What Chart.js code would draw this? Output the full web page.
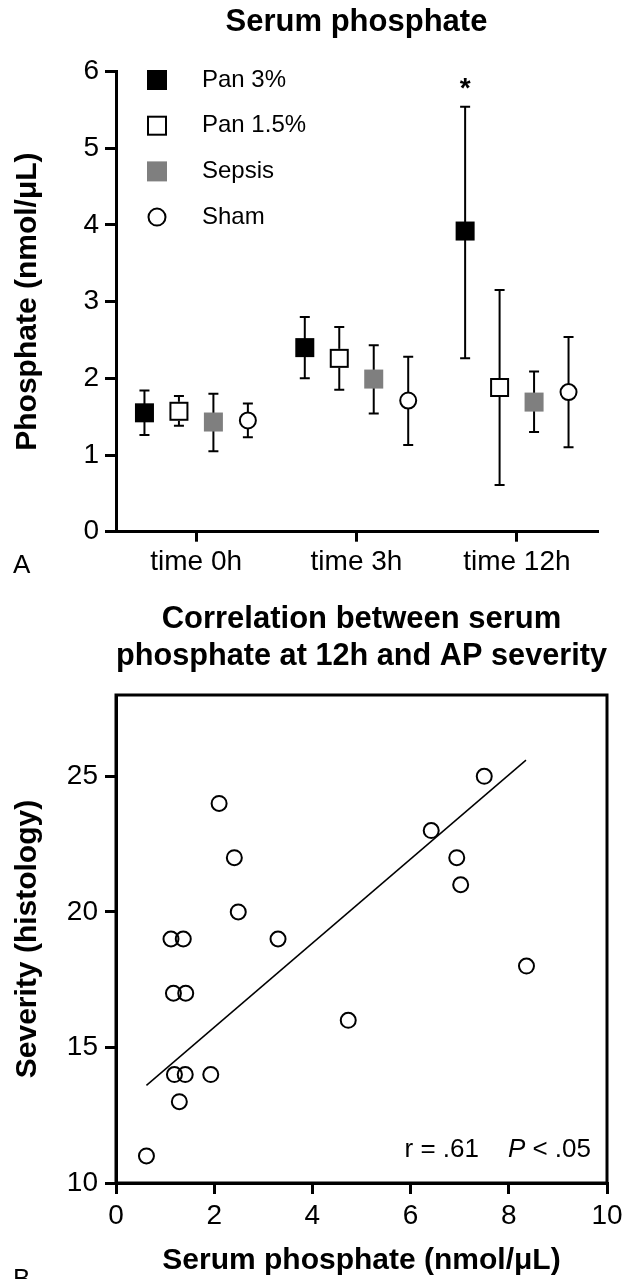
<!DOCTYPE html>
<html>
<head>
<meta charset="utf-8">
<script src="https://cdn.jsdelivr.net/npm/chart.js@4.4.1/dist/chart.umd.min.js"></script>
<style>
  html, body { margin: 0; padding: 0; background: #fff; }
  body { width: 636px; height: 1279px; position: relative; overflow: hidden; }
  #wrapA { position: absolute; left: 0; top: 0; width: 636px; height: 600px; }
  #wrapB { position: absolute; left: 0; top: 590px; width: 636px; height: 689px; }
</style>
</head>
<body>
<div id="wrapA"><canvas id="chartA" width="636" height="600"></canvas></div>
<div id="wrapB"><canvas id="chartB" width="636" height="689"></canvas></div>
<script>
// ---- panel A: serum phosphate over time (mean with error bars)
var timepoints = ['time 0h', 'time 3h', 'time 12h'];
var groupNames = ['Pan 3%', 'Pan 1.5%', 'Sepsis', 'Sham'];

var pan3Mean  = [1.55, 2.40, 3.92];
var pan3Low   = [1.26, 2.00, 2.26];
var pan3High  = [1.84, 2.80, 5.54];
var pan15Mean = [1.57, 2.26, 1.88];
var pan15Low  = [1.38, 1.85, 0.61];
var pan15High = [1.77, 2.67, 3.15];
var sepsisMean = [1.43, 1.99, 1.69];
var sepsisLow  = [1.05, 1.54, 1.30];
var sepsisHigh = [1.80, 2.43, 2.09];
var shamMean = [1.45, 1.71, 1.82];
var shamLow  = [1.23, 1.13, 1.10];
var shamHigh = [1.67, 2.28, 2.54];
var phosphateTicks = [0, 6, 1];   // min, max, step

// significance mark: series index, timepoint index
var sigMarks = [{ series: 0, index: 2, text: '*' }];

// ---- panel B: correlation at 12h
var phosphate12h  = [7.50, 2.10, 6.42, 2.41, 6.94, 7.02, 2.49, 1.12, 1.37, 3.30, 8.36, 1.17, 1.42, 4.73, 1.19, 1.41, 1.93, 1.29, 0.62];
var severityScore = [25, 24, 23, 22, 22, 21, 20, 19, 19, 19, 18, 17, 17, 16, 14, 14, 14, 13, 11];
var fitX = [0.62, 8.35];
var fitY = [13.6, 25.6];
var corrText = 'r = .61';
var pText = '< .05';

Chart.defaults.font.family = '"Liberation Sans", Arial, sans-serif';
Chart.defaults.color = '#000';

var means = [pan3Mean, pan15Mean, sepsisMean, shamMean];
var lows = [pan3Low, pan15Low, sepsisLow, shamLow];
var highs = [pan3High, pan15High, sepsisHigh, shamHigh];
var markerFill = ['#000', '#fff', '#7f7f7f', '#fff'];
var markerEdge = ['#000', '#000', '#7f7f7f', '#000'];
var markerShape = ['rect', 'rect', 'rect', 'circle'];

function drawMarker(ctx, d, x, y, side) {
  ctx.fillStyle = markerFill[d];
  ctx.strokeStyle = markerEdge[d];
  ctx.lineWidth = 2;
  if (markerShape[d] === 'circle') {
    ctx.beginPath();
    ctx.arc(x, y, side / 2 - 1.5, 0, Math.PI * 2);
    ctx.fill();
    ctx.stroke();
  } else {
    ctx.fillRect(x - side / 2, y - side / 2, side, side);
    if (markerFill[d] !== markerEdge[d]) {
      ctx.strokeRect(x - side / 2 + 1, y - side / 2 + 1, side - 2, side - 2);
    }
  }
}

var errorBarPlugin = {
  id: 'errorBars',
  afterDatasetsDraw: function(chart) {
    var ctx = chart.ctx;
    var yScale = chart.scales.y;
    var area = chart.chartArea;
    ctx.save();
    chart.data.datasets.forEach(function(ds, d) {
      var meta = chart.getDatasetMeta(d);
      meta.data.forEach(function(bar, i) {
        var x = bar.x;
        var yHi = yScale.getPixelForValue(highs[d][i]);
        var yLo = yScale.getPixelForValue(lows[d][i]);
        ctx.strokeStyle = '#000';
        ctx.lineWidth = 2;
        ctx.beginPath();
        ctx.moveTo(x - 5, yHi); ctx.lineTo(x + 5, yHi);
        ctx.moveTo(x - 5, yLo); ctx.lineTo(x + 5, yLo);
        ctx.stroke();
        drawMarker(ctx, d, x, yScale.getPixelForValue(means[d][i]), 19);
      });
    });
    // significance star
    sigMarks.forEach(function(m) {
      var bar = chart.getDatasetMeta(m.series).data[m.index];
      ctx.fillStyle = '#000';
      ctx.font = 'bold 28px "Liberation Sans", Arial, sans-serif';
      ctx.textAlign = 'center';
      ctx.textBaseline = 'alphabetic';
      ctx.fillText(m.text, bar.x, yScale.getPixelForValue(highs[m.series][m.index]) - 10);
    });
    // legend inside the plot
    ctx.font = '24px "Liberation Sans", Arial, sans-serif';
    ctx.textAlign = 'left';
    ctx.textBaseline = 'middle';
    groupNames.forEach(function(name, d) {
      var ly = area.top + 8.5 + 45.7 * d;
      drawMarker(ctx, d, area.left + 41, ly, 20);
      ctx.fillStyle = '#000';
      ctx.fillText(name, area.left + 86, ly);
    });
    // panel letter
    ctx.font = '26px "Liberation Sans", Arial, sans-serif';
    ctx.fillText('A', 13, 566);
    ctx.restore();
  }
};

var barSets = groupNames.map(function(name, d) {
  return {
    label: name,
    data: lows[d].map(function(lo, i) { return [lo, highs[d][i]]; }),
    backgroundColor: '#000',
    borderWidth: 0,
    maxBarThickness: 2,
    categoryPercentage: 0.86,
    barPercentage: 1
  };
});

new Chart(document.getElementById('chartA'), {
  type: 'bar',
  data: { labels: timepoints, datasets: barSets },
  options: {
    responsive: false,
    animation: false,
    layout: { padding: { left: 0, right: 39, top: 0, bottom: 0 } },
    plugins: {
      legend: { display: false },
      tooltip: { enabled: false },
      title: {
        display: true,
        fullSize: false,
        text: 'Serum phosphate',
        color: '#000',
        font: { size: 31, weight: 'bold' },
        padding: { top: 4, bottom: 30.3 }
      }
    },
    scales: {
      x: {
        offset: true,
        grid: { offset: false, drawOnChartArea: false, tickLength: 10, color: '#000', lineWidth: 3 },
        border: { color: '#000', width: 3 },
        ticks: { font: { size: 28 }, color: '#000', padding: 4 },
        afterFit: function(scale) { scale.height = 68.3; }
      },
      y: {
        min: phosphateTicks[0],
        max: phosphateTicks[1],
        ticks: { stepSize: phosphateTicks[2], font: { size: 28 }, color: '#000', padding: 6 },
        grid: { drawOnChartArea: false, tickLength: 11, color: '#000', lineWidth: 3 },
        border: { color: '#000', width: 3 },
        title: {
          display: true,
          text: 'Phosphate (nmol/\u03bcL)',
          color: '#000',
          font: { size: 30, weight: 'bold' },
          padding: { top: 10, bottom: 0 }
        },
        afterFit: function(scale) { scale.width = 116; }
      }
    }
  },
  plugins: [errorBarPlugin]
});

// ---- panel B
var scatterPoints = phosphate12h.map(function(v, i) { return { x: v, y: severityScore[i] }; });
var fitPoints = fitX.map(function(v, i) { return { x: v, y: fitY[i] }; });

var framePlugin = {
  id: 'frameAndNotes',
  afterDatasetsDraw: function(chart) {
    var ctx = chart.ctx;
    var a = chart.chartArea;
    ctx.save();
    ctx.strokeStyle = '#000';
    ctx.lineWidth = 3;
    ctx.strokeRect(a.left, a.top, a.right - a.left, a.bottom - a.top);
    // correlation note, right aligned
    var regular = '26px "Liberation Sans", Arial, sans-serif';
    var italic = 'italic 26px "Liberation Sans", Arial, sans-serif';
    ctx.fillStyle = '#000';
    ctx.textBaseline = 'middle';
    ctx.textAlign = 'left';
    var y = a.bottom - 33;
    var right = a.right - 16;
    ctx.font = regular;
    var wTail = ctx.measureText(' ' + pText).width;
    ctx.font = italic;
    var wP = ctx.measureText('P').width;
    ctx.font = regular;
    var wR = ctx.measureText(corrText + '    ').width;
    var x0 = right - wTail - wP - wR;
    ctx.fillText(corrText + '    ', x0, y);
    ctx.font = italic;
    ctx.fillText('P', x0 + wR, y);
    ctx.font = regular;
    ctx.fillText(' ' + pText, x0 + wR + wP, y);
    // panel letter
    ctx.textBaseline = 'top';
    ctx.fillText('B', 13, 677);
    ctx.restore();
  }
};

new Chart(document.getElementById('chartB'), {
  type: 'scatter',
  data: {
    datasets: [
      {
        label: 'Rats',
        data: scatterPoints,
        pointStyle: 'circle',
        pointRadius: 7.5,
        borderColor: '#000',
        backgroundColor: 'rgba(255,255,255,0)',
        borderWidth: 2
      },
      {
        type: 'line',
        label: 'Fit',
        data: fitPoints,
        borderColor: '#000',
        borderWidth: 1.5,
        pointRadius: 0,
        fill: false
      }
    ]
  },
  options: {
    responsive: false,
    animation: false,
    layout: { padding: { left: 0, right: 29, top: 0, bottom: 0 } },
    plugins: {
      legend: { display: false },
      tooltip: { enabled: false },
      title: {
        display: true,
        fullSize: false,
        text: ['Correlation between serum', 'phosphate at 12h and AP severity'],
        color: '#000',
        font: { size: 31, weight: 'bold', lineHeight: 1.2 },
        padding: { top: 11, bottom: 19.6 }
      }
    },
    scales: {
      x: {
        type: 'linear',
        min: 0,
        max: 10,
        ticks: { stepSize: 2, font: { size: 28 }, color: '#000', padding: 5 },
        grid: { drawOnChartArea: false, tickLength: 11, color: '#000', lineWidth: 3 },
        border: { color: '#000', width: 3 },
        title: {
          display: true,
          text: 'Serum phosphate (nmol/\u03bcL)',
          color: '#000',
          font: { size: 30, weight: 'bold' },
          padding: { top: 0, bottom: 0 }
        },
        afterFit: function(scale) { scale.height = 96; }
      },
      y: {
        min: 10,
        max: 28,
        ticks: { stepSize: 5, includeBounds: false, font: { size: 28 }, color: '#000', padding: 7 },
        grid: { drawOnChartArea: false, tickLength: 11, color: '#000', lineWidth: 3 },
        border: { color: '#000', width: 3 },
        title: {
          display: true,
          text: 'Severity (histology)',
          color: '#000',
          font: { size: 30, weight: 'bold' },
          padding: { top: 10, bottom: 0 }
        },
        afterFit: function(scale) { scale.width = 116; }
      }
    }
  },
  plugins: [framePlugin]
});
</script>
</body>
</html>
